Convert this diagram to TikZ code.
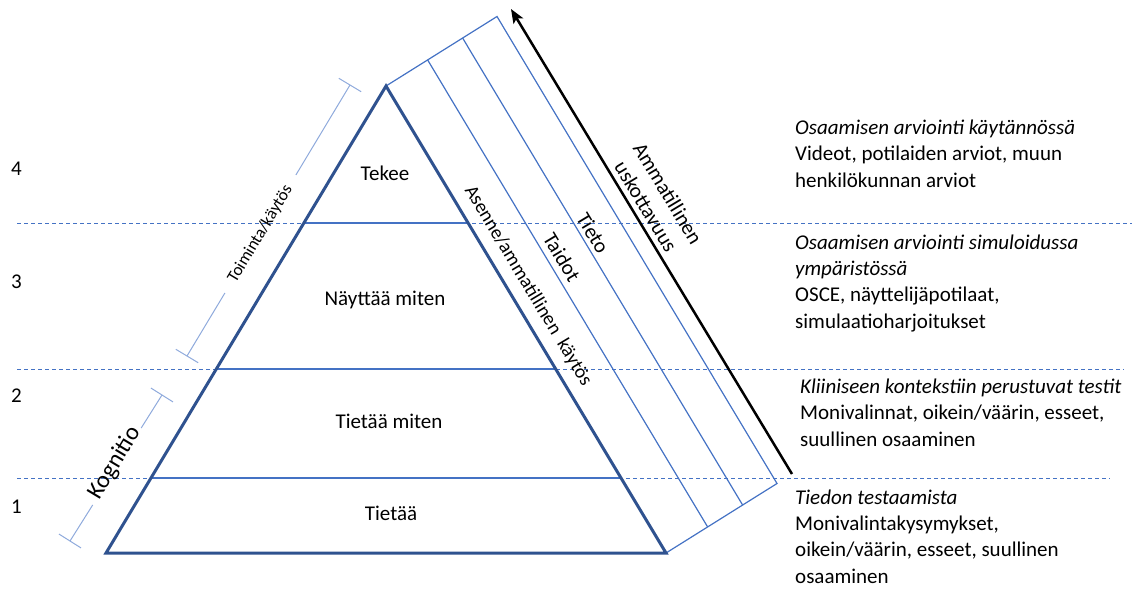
\documentclass[tikz,border=0pt]{standalone}
\usepackage{fontspec}
\setmainfont{Carlito}
\usetikzlibrary{arrows.meta,calc}
\definecolor{pdark}{HTML}{2F528F}
\definecolor{pmid}{HTML}{4472C4}
\definecolor{plight}{HTML}{8FAADC}
\tikzset{
  pyr/.style={draw=pdark, line width=3pt, line join=miter},
  level/.style={draw=pmid, line width=2pt},
  strip/.style={draw=pmid, line width=1.2pt},
  guide/.style={draw=pmid, line width=0.9pt, dash pattern=on 4pt off 3pt},
  brk/.style={draw=plight, line width=1pt},
  txt/.style={font=\fontsize{21}{26.3}\selectfont, inner sep=0pt},
  side/.style={txt, anchor=base west, align=left},
}
\begin{document}
\begin{tikzpicture}[x=1pt,y=-1pt]
\useasboundingbox (0,0) rectangle (1132,590);
% pyramid corners
\coordinate (A) at (386,86);
\coordinate (BL) at (106,553);
\coordinate (BR) at (666,553);
% level points on edges
\coordinate (L3) at ($(A)!0.2934!(BL)$);
\coordinate (R3) at ($(A)!0.2934!(BR)$);
\coordinate (L2) at ($(A)!0.6060!(BL)$);
\coordinate (R2) at ($(A)!0.6060!(BR)$);
\coordinate (L1) at ($(A)!0.8394!(BL)$);
\coordinate (R1) at ($(A)!0.8394!(BR)$);
% guide line ends
\coordinate (g3a) at (17,223);  \coordinate (g3b) at (1132,223);
\coordinate (g2a) at (17,369);  \coordinate (g2b) at (1124,369);
\coordinate (g1a) at (17,478);  \coordinate (g1b) at (1110,478);
\draw[guide] (g3a) -- (g3b);
\draw[guide] (g2a) -- (g2b);
\draw[guide] (g1a) -- (g1b);
% strips
\coordinate (T1) at (427.6,59.9); \coordinate (B1) at (707.6,526.9);
\coordinate (T2) at (462.6,38);   \coordinate (B2) at (742.6,505);
\coordinate (T3) at (497,16.5);   \coordinate (B3) at (777,483.5);
\draw[strip] (A) -- (T3) -- (B3) -- (BR);
\draw[strip] (T1) -- (B1);
\draw[strip] (T2) -- (B2);
% levels
\draw[level] (L3) -- (R3);
\draw[level] (L2) -- (R2);
\draw[level] (L1) -- (R1);
% pyramid outline
\draw[pyr] (A) -- (BL) -- (BR) -- cycle;
% arrow
\coordinate (arS) at (792,474);
\coordinate (arE) at (511,9);
\draw[line width=2.5pt, -{Stealth[length=14pt,width=11pt,inset=3pt]}] (arS) -- (arE);
% pyramid labels
\node[txt, anchor=base] (tekee) at (385,180) {Tekee};
\node[txt, anchor=base] (nayttaa) at (385,305) {Näyttää miten};
\node[txt, anchor=base] (tietaamiten) at (389,428) {Tietää miten};
\node[txt, anchor=base] (tietaa) at (391,520) {Tietää};
% strip labels
\node[font=\fontsize{19.5}{23}\selectfont, inner sep=0pt, rotate=-59] (asenne) at (528,286) {Asenne/ammatillinen\ \ käytös};
\node[txt, rotate=-59] (taidot) at (562,257) {Taidot};
\node[txt, rotate=-59] (tieto) at (593,233) {Tieto};
\node[txt, rotate=-59, align=center, font=\fontsize{21}{25.7}\selectfont] (ammat) at (657,200) {Ammatillinen\\uskottavuus};
% left brackets
\coordinate (K1) at (350,85);
\coordinate (K2) at (187,356);
\coordinate (K1a) at ($(K1)!13pt!90:(K2)$);
\coordinate (K1b) at ($(K1)!13pt!-90:(K2)$);
\coordinate (K2a) at ($(K2)!13pt!90:(K1)$);
\coordinate (K2b) at ($(K2)!13pt!-90:(K1)$);
\draw[brk] (K1a) -- (K1b);
\draw[brk] (K2a) -- (K2b);
\draw[brk] (K1) -- ($(K1)!0.332!(K2)$);
\draw[brk] ($(K1)!0.7675!(K2)$) -- (K2);
\node[font=\fontsize{17}{20}\selectfont, inner sep=0pt, rotate=59] (toiminta) at ($(K1)!0.55!(K2)$) {Toiminta/käytös};
\coordinate (G1) at (162,395);
\coordinate (G2) at (70,541);
\coordinate (G1a) at ($(G1)!13pt!90:(G2)$);
\coordinate (G1b) at ($(G1)!13pt!-90:(G2)$);
\coordinate (G2a) at ($(G2)!13pt!90:(G1)$);
\coordinate (G2b) at ($(G2)!13pt!-90:(G1)$);
\draw[brk] (G1a) -- (G1b);
\draw[brk] (G2a) -- (G2b);
\draw[brk] (G1) -- ($(G1)!0.226!(G2)$);
\draw[brk] ($(G1)!0.753!(G2)$) -- (G2);
\node[font=\fontsize{24}{28}\selectfont, inner sep=0pt, rotate=59] (kognitio) at (115,463) {Kognitio};
% level numbers
\node[txt, anchor=base west] (n4) at (11,175) {4};
\node[txt, anchor=base west] (n3) at (11,288) {3};
\node[txt, anchor=base west] (n2) at (11,402) {2};
\node[txt, anchor=base west] (n1) at (11,513) {1};
% right descriptions (anchor base = baseline of last line)
\node[side] (d4) at (795,187) {\textit{Osaamisen arviointi käytännössä}\\Videot, potilaiden arviot, muun\\henkilökunnan arviot};
\node[side] (d3) at (795,328) {\textit{Osaamisen arviointi simuloidussa}\\\textit{ympäristössä}\\OSCE, näyttelijäpotilaat,\\simulaatioharjoitukset};
\node[side] (d2) at (800,446) {\textit{Kliiniseen kontekstiin perustuvat testit}\\Monivalinnat, oikein/väärin, esseet,\\suullinen osaaminen};
\node[side] (d1) at (795,583) {\textit{Tiedon testaamista}\\Monivalintakysymykset,\\oikein/väärin, esseet, suullinen\\osaaminen};
\end{tikzpicture}
\end{document}
